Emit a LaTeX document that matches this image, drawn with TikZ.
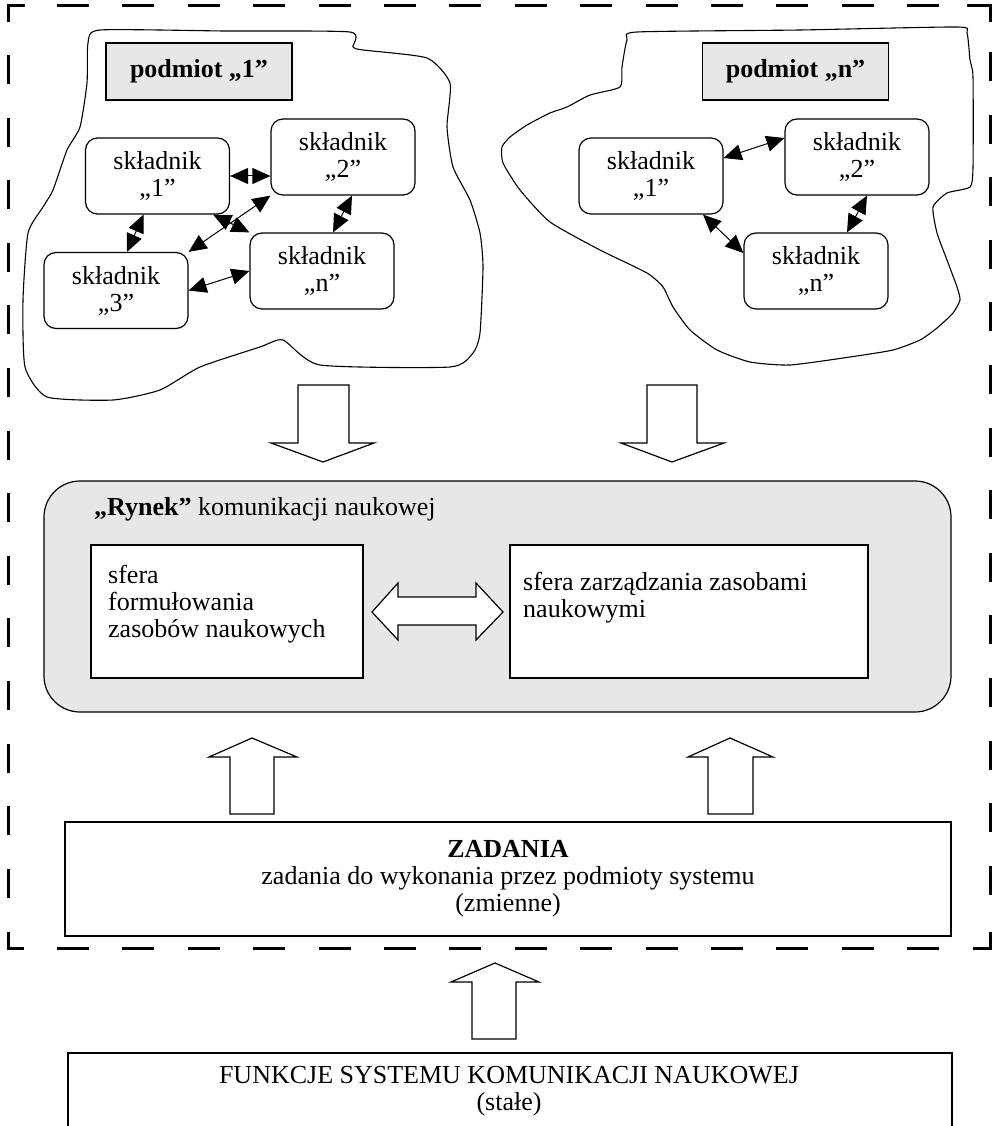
\documentclass[tikz,border=0pt]{standalone}
\usepackage{fontspec}
\setmainfont{Liberation Serif}
\usetikzlibrary{arrows.meta}
\definecolor{boxgray}{HTML}{E6E7E8}
\newcommand\diagfont{\fontsize{26}{27}\selectfont}
\tikzset{
  unit/.style={x=1pt,y=-1pt},
  thin line/.style={line width=1.2pt},
  skbox/.style={draw, thin line, rounded corners=12pt, fill=white,
    minimum width=144pt, minimum height=76pt, inner sep=0pt,
    align=center, font=\diagfont},
  podbox/.style={draw, thin line, fill=boxgray, minimum width=186pt,
    minimum height=57pt, inner sep=0pt, font=\diagfont\bfseries},
  link/.style={{Triangle[length=18pt,width=16pt]}-{Triangle[length=18pt,width=16pt]}, line width=1pt},
  blob/.style={draw, line width=1.1pt},
  blockarrow/.style={draw, thin line, fill=white, line join=miter},
  frame/.style={line width=3pt},
  plain/.style={inner sep=0pt, font=\diagfont},
}
\begin{document}
\begin{tikzpicture}[unit]
\useasboundingbox (0,0) rectangle (993,1126);

% ---- dashed system frame ----
\draw[frame] (8,22) -- (8,6) -- (25,6);
\draw[frame] (967,6) -- (990,6) -- (990,22);
\draw[frame] (8,932) -- (8,948) -- (24,948);
\draw[frame] (973,948) -- (990,948) -- (990,932);
\foreach \i in {0,...,13} {
  \draw[frame] ({57+65.4*\i},6) -- ++(32,0);
  \draw[frame] ({57+65.4*\i},948) -- ++(32,0);
  \draw[frame] (8,{55+62.6*\i}) -- ++(0,29);
  \draw[frame] (990,{52+62.6*\i}) -- ++(0,29);
}

% ---- subject 1 ----
\draw[blob] plot[smooth cycle, tension=0.35] coordinates {
  (100,30) (225,31) (350,32) (353,47) (363,50) (427,58) (450,83) (447,127) (453,167)
  (470,200) (480,233) (483,267) (480,333) (473,353) (450,367) (320,365)
  (283,340) (260,347) (200,367) (160,390) (113,400) (47,397) (25,367)
  (23,300) (28,233) (43,207) (53,190) (67,150) (80,127) (87,83) (88,43)};
\node[podbox] (p1) at (199,71.5) {podmiot „1”};
\node[skbox] (a1) at (157.5,176) {składnik\\„1”};
\node[skbox] (a2) at (343,157) {składnik\\„2”};
\node[skbox] (a3) at (116,290.5) {składnik\\„3”};
\node[skbox] (an) at (322,271) {składnik\\„n”};
\draw[link] (a1.east) -- (a1.east -| a2.west);
\draw[link] ([xshift=-14pt]a1.south) -- ([xshift=11pt]a3.north);
\draw[link] (a2.south west) -- (a3.north east);
\draw[link] ([xshift=-17pt]a1.south east) -- (an.north west);
\draw[link] (a3.east) -- (an.west);
\draw[link] ([xshift=9pt]a2.south) -- ([xshift=11pt]an.north);

% ---- subject n ----
\draw[blob] plot[smooth cycle, tension=0.35] coordinates {
  (637,32) (800,30) (957,27) (967,33) (970,60) (973,77) (973,167) (970,187)
  (947,193) (933,207) (937,233) (947,260) (957,287) (960,300) (953,313)
  (937,328) (920,340) (893,350) (850,357) (790,365) (750,362) (717,350)
  (690,330) (673,307) (663,287) (647,273) (600,250) (550,222) (520,190)
  (503,163) (502,147) (510,137) (527,125) (550,113) (567,107) (590,95)
  (620,87) (622,67) (627,40)};
\node[podbox] (pn) at (795.5,71.5) {podmiot „n”};
\node[skbox] (b1) at (651,176) {składnik\\„1”};
\node[skbox] (b2) at (857,157) {składnik\\„2”};
\node[skbox] (bn) at (816,271) {składnik\\„n”};
\draw[link] ([yshift=18pt]b1.east) -- ([yshift=19pt]b2.west);
\draw[link] ([xshift=52pt]b1.south) -- ([yshift=18pt]bn.west);
\draw[link] ([xshift=10pt]b2.south) -- ([xshift=31pt]bn.north);

% ---- block arrows into the market ----
\draw[blockarrow] (298,385) -- (349,385) -- (349,443) -- (374,443) -- (323,462)
  -- (271,443) -- (298,443) -- cycle;
\draw[blockarrow] (647,385) -- (697,385) -- (697,443) -- (724,443) -- (672,462)
  -- (621,443) -- (647,443) -- cycle;

% ---- market of scientific communication ----
\node[draw, thin line, fill=boxgray, rounded corners=36pt, minimum width=907pt,
  minimum height=231pt] (rynek) at (497.5,596.5) {};
\node[plain, anchor=base west] (rtitle) at (94,515)
  {\textbf{„Rynek”} komunikacji naukowej};
\node[draw, thin line, fill=white, minimum width=272pt, minimum height=133pt]
  (sf) at (227,611.5) {};
\node[draw, thin line, fill=white, minimum width=358pt, minimum height=133pt]
  (sz) at (689,611.5) {};
\node[plain, anchor=north west, align=left] (sftext) at (108,565)
  {sfera\\formułowania\\zasobów naukowych};
\node[plain, anchor=north west, align=left] (sztext) at (523,572)
  {sfera zarządzania zasobami\\naukowymi};
\draw[blockarrow] (372,612) -- (398,583) -- (398,597) -- (476,597) -- (476,583)
  -- (503,612) -- (476,640) -- (476,625) -- (398,625) -- (398,640) -- cycle;

% ---- block arrows from the tasks ----
\draw[blockarrow] (230,814) -- (274,814) -- (274,757) -- (297,757) -- (252,738)
  -- (209,757) -- (230,757) -- cycle;
\draw[blockarrow] (708,814) -- (753,814) -- (753,757) -- (773,757) -- (730,738)
  -- (688,757) -- (708,757) -- cycle;

% ---- tasks ----
\node[draw, thin line, minimum width=886pt, minimum height=114pt, align=center,
  font=\diagfont] (zad) at (508,879)
  {\textbf{ZADANIA}\\zadania do wykonania przez podmioty systemu\\(zmienne)};

% ---- functions ----
\draw[blockarrow] (472,1039) -- (516,1039) -- (516,982) -- (539,982) -- (495,963)
  -- (451,982) -- (472,982) -- cycle;
\draw[thin line] (68,1130) -- (68,1053) -- (952,1053) -- (952,1130);
\node[plain, align=center] (fun) at (509,1091.5)
  {FUNKCJE SYSTEMU KOMUNIKACJI NAUKOWEJ\\(stałe)};
\end{tikzpicture}
\end{document}
